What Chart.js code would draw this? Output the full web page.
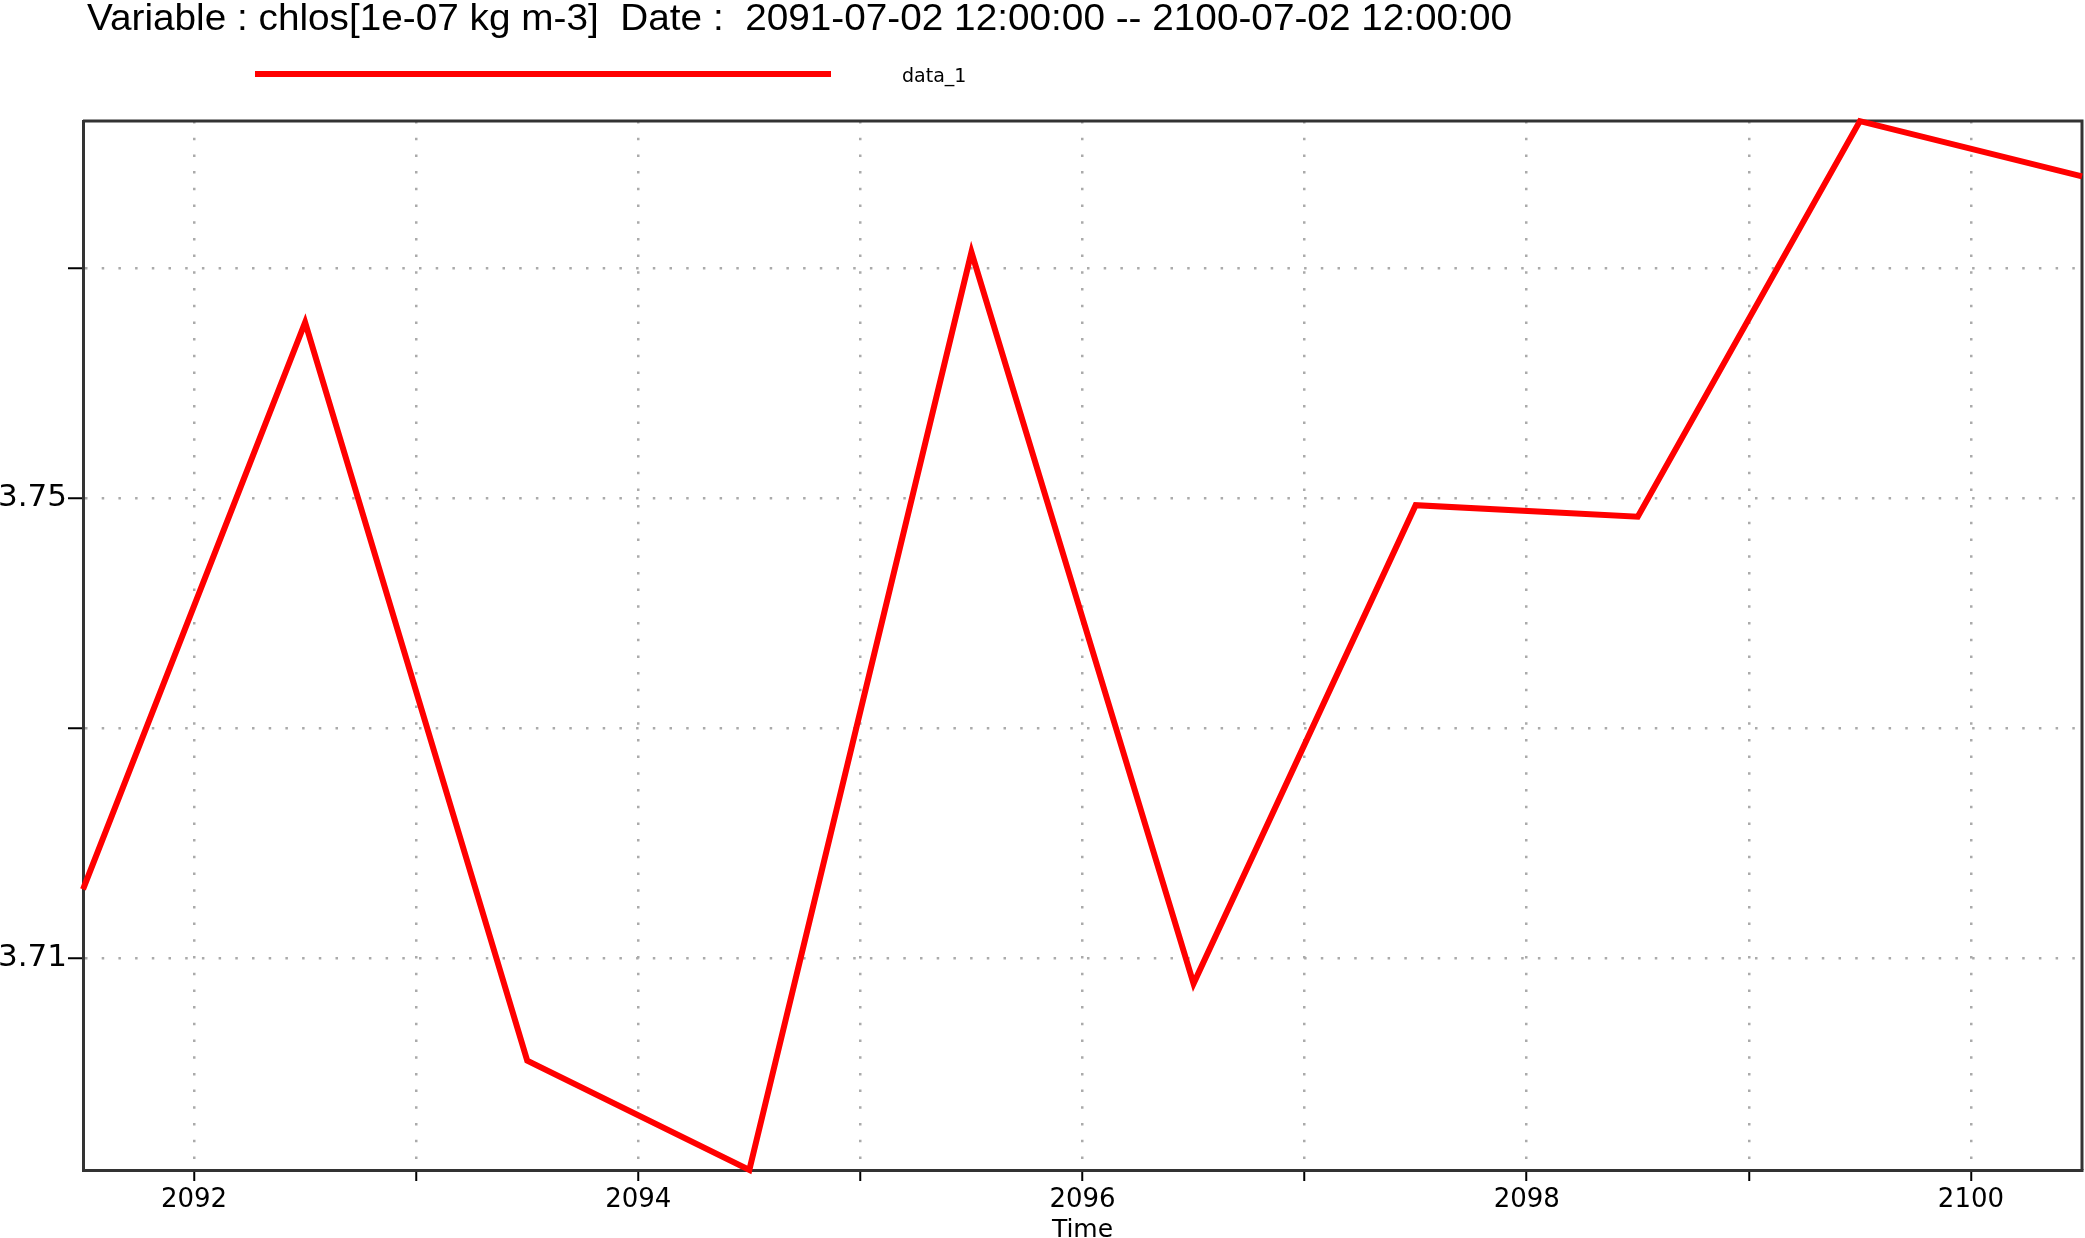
<!DOCTYPE html>
<html>
<head>
<meta charset="utf-8">
<script src="https://cdn.jsdelivr.net/npm/chart.js@4.4.1/dist/chart.umd.min.js"></script>
<style>
  html, body { margin: 0; padding: 0; background: #ffffff; }
  #wrap { position: relative; width: 2085px; height: 1238px; overflow: hidden; }
  #chart { position: absolute; left: 0; top: 0; }
  #title { position: absolute; left: 87px; top: -1px; font-family: "Liberation Sans", Arial, sans-serif; font-size: 37px; line-height: 37px; color: #000; white-space: pre; transform-origin: 0 0; }
  #legLine { position: absolute; left: 255px; top: 71px; width: 576px; height: 6px; background: #ff0000; }
  #legText { position: absolute; left: 902px; top: 66px; font-family: "DejaVu Sans", sans-serif; font-size: 19px; line-height: 19px; color: #000; white-space: pre; }
</style>
</head>
<body>
<div id="wrap">
  <canvas id="chart" width="2085" height="1238"></canvas>
  <div id="title">Variable : chlos[1e-07 kg m-3]  Date :  2091-07-02 12:00:00 -- 2100-07-02 12:00:00</div>
  <div id="legLine"></div>
  <div id="legText">data_1</div>
</div>
<script>
// ---- data ----
const years = [2091.5, 2092.5, 2093.5, 2094.5, 2095.5, 2096.5, 2097.5, 2098.5, 2099.5, 2100.5];
const chlos = [3.7160, 3.7653, 3.7011, 3.6916, 3.7714, 3.7078, 3.7494, 3.7484, 3.7828, 3.7780];
const xTicks = [2092, 2093, 2094, 2095, 2096, 2097, 2098, 2099, 2100];
const xTickLabels = ['2092', '', '2094', '', '2096', '', '2098', '', '2100'];
const yTicks = [3.71, 3.73, 3.75, 3.77];
const yTickLabels = ['3.71', '', '3.75', ''];
const seriesName = 'data_1';

// fit title width to the reference span
(function () {
  const t = document.getElementById('title');
  const w = t.getBoundingClientRect().width;
  const target = 1425;
  if (w > 0) t.style.transform = 'scaleX(' + (target / w) + ')';
})();

const points = years.map((x, i) => ({ x: x, y: chlos[i] }));

const framePlugin = {
  id: 'frame',
  beforeDatasetsDraw(chart) {
    const { ctx, chartArea: a } = chart;
    ctx.save();
    ctx.strokeStyle = '#333333';
    ctx.lineWidth = 3;
    ctx.beginPath();
    ctx.moveTo(a.left, a.top);
    ctx.lineTo(a.right, a.top);
    ctx.lineTo(a.right, a.bottom);
    ctx.stroke();
    ctx.restore();
  }
};

new Chart(document.getElementById('chart'), {
  type: 'line',
  data: {
    datasets: [{
      label: seriesName,
      data: points,
      borderColor: '#ff0000',
      backgroundColor: '#ff0000',
      borderWidth: 6,
      pointRadius: 0,
      tension: 0,
      clip: false
    }]
  },
  options: {
    responsive: false,
    animation: false,
    devicePixelRatio: 1,
    layout: { padding: { top: 121, right: 3, left: 0, bottom: 0 } },
    plugins: { legend: { display: false }, title: { display: false }, tooltip: { enabled: false } },
    scales: {
      x: {
        type: 'linear',
        min: 2091.5,
        max: 2100.5,
        afterBuildTicks: (s) => { s.ticks = xTicks.map(v => ({ value: v })); },
        afterFit: (s) => { s.height = 68; },
        ticks: {
          autoSkip: false,
          maxRotation: 0,
          padding: 4,
          color: '#000',
          font: { family: 'DejaVu Sans', size: 26 },
          callback: (v, i) => xTickLabels[i]
        },
        grid: {
          color: '#aaaaaa',
          lineWidth: 2.5,
          tickColor: '#000000',
          tickLength: 11,
          tickWidth: 2
        },
        border: { display: true, color: '#333333', width: 3, dash: [2.5, 14.2] },
        title: {
          display: true,
          text: 'Time',
          color: '#000',
          font: { family: 'DejaVu Sans', size: 25 },
          padding: { top: 0, bottom: -7 }
        }
      },
      y: {
        type: 'linear',
        min: 3.69159,
        max: 3.78281,
        afterBuildTicks: (s) => { s.ticks = yTicks.map(v => ({ value: v })); },
        afterFit: (s) => { s.width = 83; },
        ticks: {
          autoSkip: false,
          padding: 1,
          color: '#000',
          font: { family: 'DejaVu Sans', size: 31 },
          callback: (v, i) => yTickLabels[i]
        },
        grid: {
          color: '#aaaaaa',
          lineWidth: 2.5,
          tickColor: '#000000',
          tickLength: 15,
          tickWidth: 2
        },
        border: { display: true, color: '#333333', width: 3, dash: [2.5, 14.2] }
      }
    }
  },
  plugins: [framePlugin]
});
</script>
</body>
</html>
